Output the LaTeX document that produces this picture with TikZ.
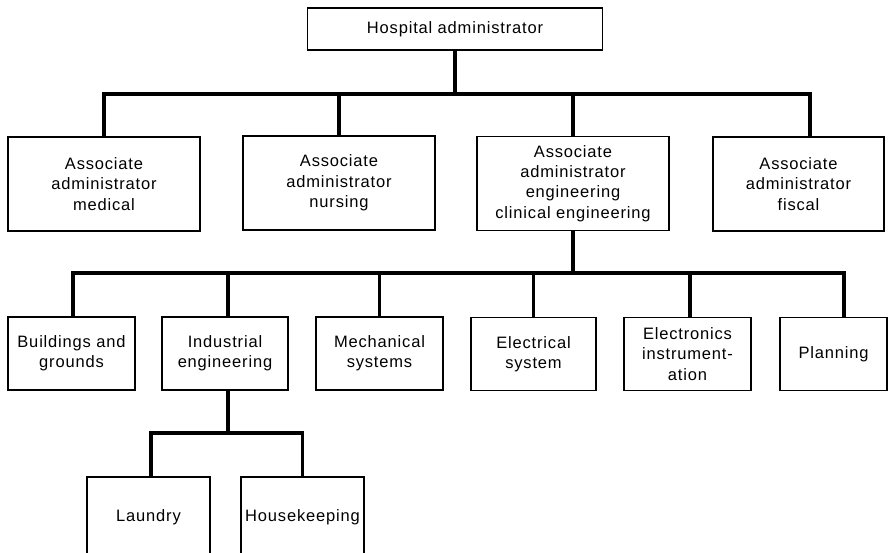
\documentclass[tikz,border=0pt]{standalone}
\usepackage{fontspec}
\setmainfont{Liberation Sans}
\newfontfamily\boxfont[LetterSpace=5]{Liberation Sans}
\usetikzlibrary{calc}
\begin{document}
\begin{tikzpicture}[x=1pt,y=1pt,
  orgbox/.style={draw=black, line width=1.6pt, fill=white, rectangle, inner sep=0pt,
    align=center, font=\boxfont\fontsize{16.5}{20.3}\selectfont},
  conn/.style={draw=black, line width=3.2pt, line cap=rect, line join=miter}]
\useasboundingbox (0,0) rectangle (896,-553);
\fill[white] (0,0) rectangle (896,-553);

% top level
\node[orgbox, minimum width=295, minimum height=42] (top) at (455,-29) {Hospital administrator};

% associate administrators
\node[orgbox, minimum width=192, minimum height=94] (med)  at (104,-184) {Associate\\administrator\\medical};
\node[orgbox, minimum width=192, minimum height=94] (nurs) at (339,-183) {Associate\\administrator\\nursing};
\node[orgbox, minimum width=192, minimum height=94] (eng)  at (573,-183.5) {Associate\\administrator\\engineering\\clinical engineering};
\node[orgbox, minimum width=171, minimum height=94] (fis)  at (798.5,-184) {Associate\\administrator\\fiscal};

% engineering departments
\node[orgbox, minimum width=127, minimum height=73] (bld)  at (71.5,-353.5)  {Buildings and\\grounds};
\node[orgbox, minimum width=126, minimum height=73] (ind)  at (225,-353.5)   {Industrial\\engineering};
\node[orgbox, minimum width=127, minimum height=73] (mech) at (379.5,-353.5) {Mechanical\\systems};
\node[orgbox, minimum width=125, minimum height=73] (elec) at (533.5,-354) {Electrical\\system};
\node[orgbox, minimum width=127, minimum height=73] (elx)  at (687.5,-354) {Electronics\\instrument-\\ation};
\node[orgbox, minimum width=107, minimum height=73] (plan) at (833.5,-354) {Planning};

% industrial engineering sections
\node[orgbox, minimum width=123, minimum height=80] (laun) at (148.5,-517) {Laundry};
\node[orgbox, minimum width=123, minimum height=80] (hk)   at (302.5,-517) {Housekeeping};

% bus levels
\coordinate (b1) at (0,-94);
\coordinate (b2) at (0,-273);
\coordinate (b3) at (0,-433);
\coordinate (fisx) at ([xshift=11.5pt]fis.north);
\coordinate (bldx) at ([xshift=1.5pt]bld.north);
\coordinate (indx) at ([xshift=3pt]ind.north);
\coordinate (elxx) at ([xshift=2.5pt]elx.north);
\coordinate (planx) at ([xshift=10.5pt]plan.north);
\coordinate (launx) at ([xshift=2.5pt]laun.north);

% connectors: administrator to associates
\draw[conn] (top.south) -- (top.south |- b1);
\draw[conn] (med.north) -- (med.north |- b1) -- (fisx |- b1) -- (fisx);
\draw[conn] (nurs.north) -- (nurs.north |- b1);
\draw[conn] (eng.north) -- (eng.north |- b1);

% connectors: engineering to departments
\draw[conn] (eng.south) -- (eng.south |- b2);
\draw[conn] (bldx) -- (bldx |- b2) -- (planx |- b2) -- (planx);
\draw[conn] (indx) -- (indx |- b2);
\draw[conn] (mech.north) -- (mech.north |- b2);
\draw[conn] (elec.north) -- (elec.north |- b2);
\draw[conn] (elxx) -- (elxx |- b2);

% connectors: industrial engineering to sections
\draw[conn] (indx |- ind.south) -- (indx |- b3);
\draw[conn] (launx) -- (launx |- b3) -- (hk.north |- b3) -- (hk.north);
\end{tikzpicture}
\end{document}
